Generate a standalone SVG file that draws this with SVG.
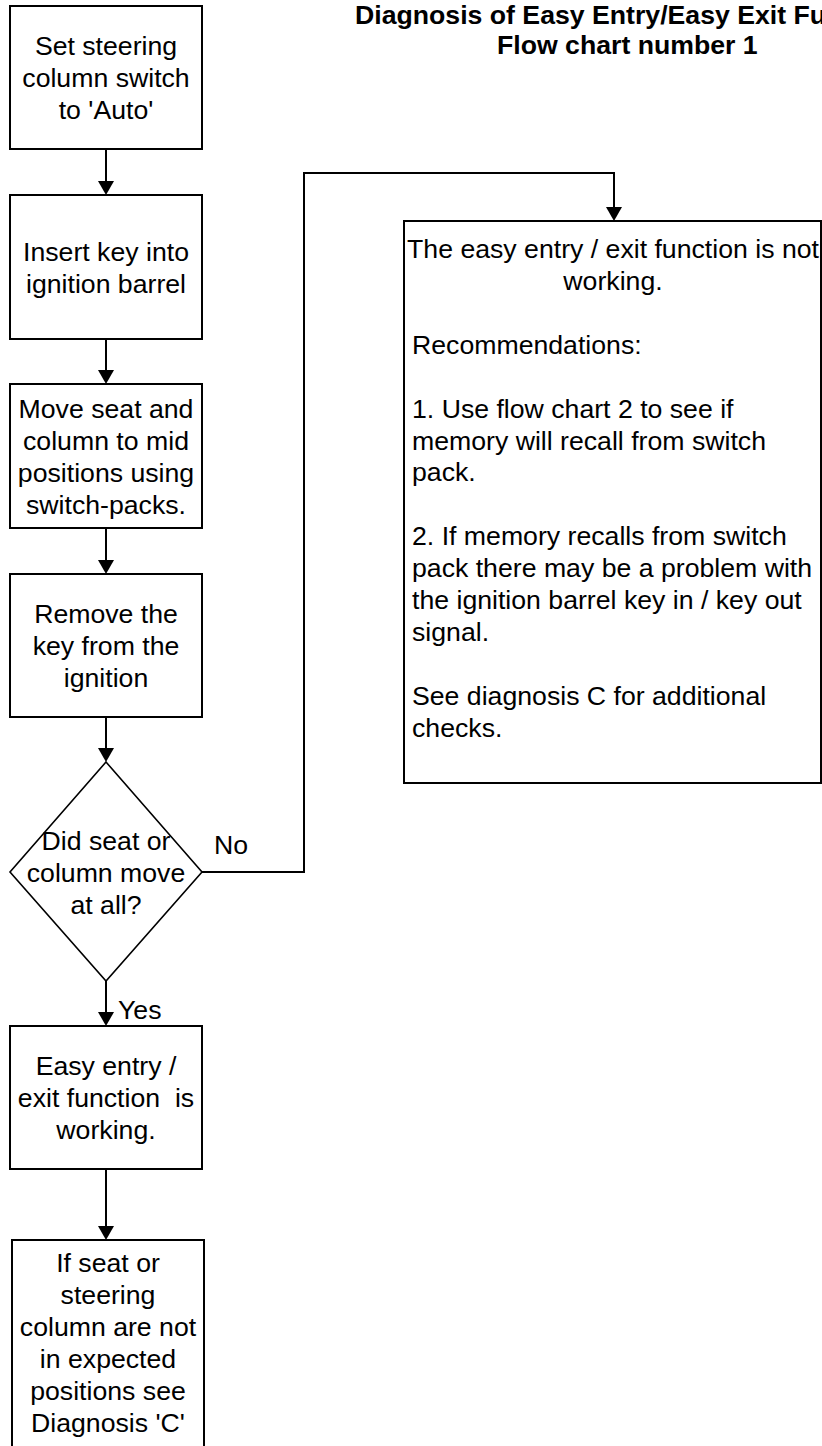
<svg xmlns="http://www.w3.org/2000/svg" width="822" height="1446" viewBox="0 0 822 1446">
<style>
.box{fill:#fff;stroke:#000;stroke-width:2}
.dia{fill:#fff;stroke:#000;stroke-width:1.6}
.t{font-family:"Liberation Sans",Arial,sans-serif;font-size:26.67px;fill:#000}
.c{text-anchor:middle}
.title{font-family:"Liberation Sans",Arial,sans-serif;font-size:26.67px;font-weight:bold;fill:#000}
.con{fill:none;stroke:#000;stroke-width:2}
</style>
<defs>
<marker id="arr" markerUnits="userSpaceOnUse" markerWidth="14" markerHeight="16" viewBox="0 0 14 16" refX="11" refY="8" orient="auto">
<path d="M0,0 L14,8 L0,16 z" fill="#000"/>
</marker>
</defs>
<g id="title">
<text class="title" x="355" y="24">Diagnosis of Easy Entry/Easy Exit Function</text>
<text class="title" x="497" y="54">Flow chart number 1</text>
</g>
<g id="connectors">
<path class="con" d="M106,149 V192" marker-end="url(#arr)"/>
<path class="con" d="M106,339 V381" marker-end="url(#arr)"/>
<path class="con" d="M106,528 V571" marker-end="url(#arr)"/>
<path class="con" d="M106,717 V759" marker-end="url(#arr)"/>
<path class="con" d="M106,981 V1023" marker-end="url(#arr)"/>
<path class="con" d="M106,1169 V1237" marker-end="url(#arr)"/>
<path class="con" d="M202,872 H304 V173 H614 V218" marker-end="url(#arr)"/>
<text class="t" x="214" y="854">No</text>
<text class="t" x="118" y="1019">Yes</text>
</g>
<g id="n1">
<rect class="box" x="10" y="6" width="192" height="143"/>
<text class="t c" x="106" y="55">Set steering</text>
<text class="t c" x="106" y="87">column switch</text>
<text class="t c" x="106" y="119">to 'Auto'</text>
</g>
<g id="n2">
<rect class="box" x="10" y="195" width="192" height="144"/>
<text class="t c" x="106" y="261">Insert key into</text>
<text class="t c" x="106" y="293">ignition barrel</text>
</g>
<g id="n3">
<rect class="box" x="10" y="384" width="192" height="144"/>
<text class="t c" x="106" y="418">Move seat and</text>
<text class="t c" x="106" y="450">column to mid</text>
<text class="t c" x="106" y="482">positions using</text>
<text class="t c" x="106" y="514">switch-packs.</text>
</g>
<g id="n4">
<rect class="box" x="10" y="574" width="192" height="143"/>
<text class="t c" x="106" y="623">Remove the</text>
<text class="t c" x="106" y="655">key from the</text>
<text class="t c" x="106" y="687">ignition</text>
</g>
<g id="n5">
<polygon class="dia" points="106,762 202,872 106,981 10,872"/>
<text class="t c" x="106" y="850">Did seat or</text>
<text class="t c" x="106" y="882">column move</text>
<text class="t c" x="106" y="914">at all?</text>
</g>
<g id="n6">
<rect class="box" x="10" y="1026" width="192" height="143"/>
<text class="t c" x="106" y="1075">Easy entry /</text>
<text class="t c" x="106" y="1107" xml:space="preserve">exit function  is</text>
<text class="t c" x="106" y="1139">working.</text>
</g>
<g id="n7">
<rect class="box" x="12" y="1240" width="192" height="210"/>
<text class="t c" x="108" y="1272">If seat or</text>
<text class="t c" x="108" y="1304">steering</text>
<text class="t c" x="108" y="1336">column are not</text>
<text class="t c" x="108" y="1368">in expected</text>
<text class="t c" x="108" y="1400">positions see</text>
<text class="t c" x="108" y="1432">Diagnosis 'C'</text>
</g>
<g id="n8">
<rect class="box" x="404" y="221" width="417" height="562"/>
<text class="t c" x="613" y="258">The easy entry / exit function is not</text>
<text class="t c" x="613" y="290">working.</text>
<text class="t" x="412" y="354">Recommendations:</text>
<text class="t" x="412" y="418">1. Use flow chart 2 to see if</text>
<text class="t" x="412" y="450">memory will recall from switch</text>
<text class="t" x="412" y="481">pack.</text>
<text class="t" x="412" y="545">2. If memory recalls from switch</text>
<text class="t" x="412" y="577">pack there may be a problem with</text>
<text class="t" x="412" y="609">the ignition barrel key in / key out</text>
<text class="t" x="412" y="641">signal.</text>
<text class="t" x="412" y="705">See diagnosis C for additional</text>
<text class="t" x="412" y="737">checks.</text>
</g>
</svg>
